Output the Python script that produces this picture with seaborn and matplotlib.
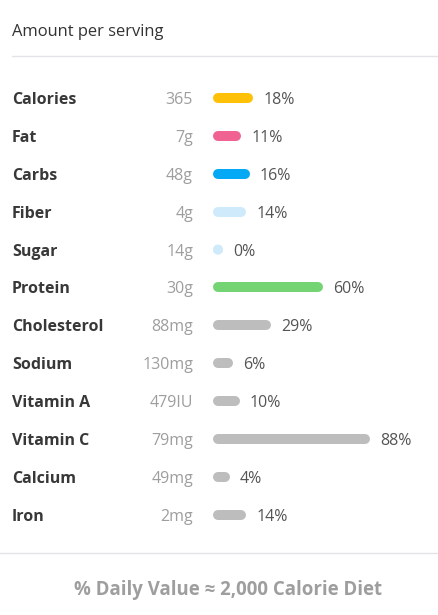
import seaborn as sns
import matplotlib.pyplot as plt
import matplotlib.transforms as mtransforms
import pandas as pd

sns.set_style('white')
plt.rcParams['font.family'] = ['Open Sans', 'DejaVu Sans']

names = ['Calories', 'Fat', 'Carbs', 'Fiber', 'Sugar', 'Protein', 'Cholesterol',
         'Sodium', 'Vitamin A', 'Vitamin C', 'Calcium', 'Iron']
amounts = ['365', '7g', '48g', '4g', '14g', '30g', '88mg', '130mg', '479IU',
           '79mg', '49mg', '2mg']
percents = [18, 11, 16, 14, 0, 60, 29, 6, 10, 88, 4, 14]
bar_colors = ['#FFC107', '#F06292', '#03A9F4', '#CFEBFB', '#CFEBFB', '#74D474',
              '#BDBDBD', '#BDBDBD', '#BDBDBD', '#BDBDBD', '#BDBDBD', '#BDBDBD']

W, H = 439, 615
fig = plt.figure(figsize=(W / 100, H / 100), dpi=100)
ax = fig.add_axes([0, 0, 1, 1])

# pixel layout of the bar area
x0, px_per_pct = 218, 1.67
y0, row_h = 98, 37.9
ax.set_xlim(-x0 / px_per_pct, (W - x0) / px_per_pct)
ax.set_ylim((H - y0) / row_h, -y0 / row_h)
ax.axis('off')

rows = []
for i, (n, p) in enumerate(zip(names, percents)):
    rows.append({'name': n, 'pct': 0, 'row': i})
    rows.append({'name': n, 'pct': p, 'row': i})
df = pd.DataFrame(rows)
pal = dict(zip(names, bar_colors))

sns.lineplot(data=df, x='pct', y='row', hue='name', units='name', estimator=None,
             palette=pal, linewidth=7.2, solid_capstyle='round', legend=False,
             sort=False, ax=ax)
# zero values still show a round dot
zero_names = [n for n, p in zip(names, percents) if p == 0]
zero = df[(df['pct'] == 0) & df['name'].isin(zero_names)]
sns.scatterplot(data=zero, x='pct', y='row', hue='name', palette=pal, s=50,
                linewidth=0, legend=False, ax=ax)

name_tr = mtransforms.blended_transform_factory(fig.transFigure, ax.transData)
off = mtransforms.offset_copy(ax.transData, fig=fig, x=15, y=0, units='dots')
for i, (n, a, p) in enumerate(zip(names, amounts, percents)):
    ax.text(12 / W, i, n, transform=name_tr, fontsize=11.5, fontweight='bold',
            color='#383838', va='center_baseline', ha='left')
    ax.text(193 / W, i, a, transform=name_tr, fontsize=11.5,
            color='#9e9e9e', va='center_baseline', ha='right')
    ax.text(p, i, f'{p}%', transform=off, fontsize=11.5,
            color='#555555', va='center_baseline', ha='left')

fig.text(12 / W, 1 - 30 / H, 'Amount per serving', fontsize=11.9,
         color='#333333', va='center_baseline', ha='left')
fig.add_artist(plt.Line2D([12 / W, 1], [1 - 56 / H] * 2, color='#E3E3EA', lw=1))
fig.add_artist(plt.Line2D([0, 1], [1 - 553 / H] * 2, color='#E3E3EA', lw=1))
fig.text(228 / W, 1 - 588 / H, '% Daily Value \u2248 2,000 Calorie Diet',
         fontsize=13.4, fontweight='bold', color='#9e9e9e',
         va='center_baseline', ha='center')

fig.savefig('out.png', dpi=100)
